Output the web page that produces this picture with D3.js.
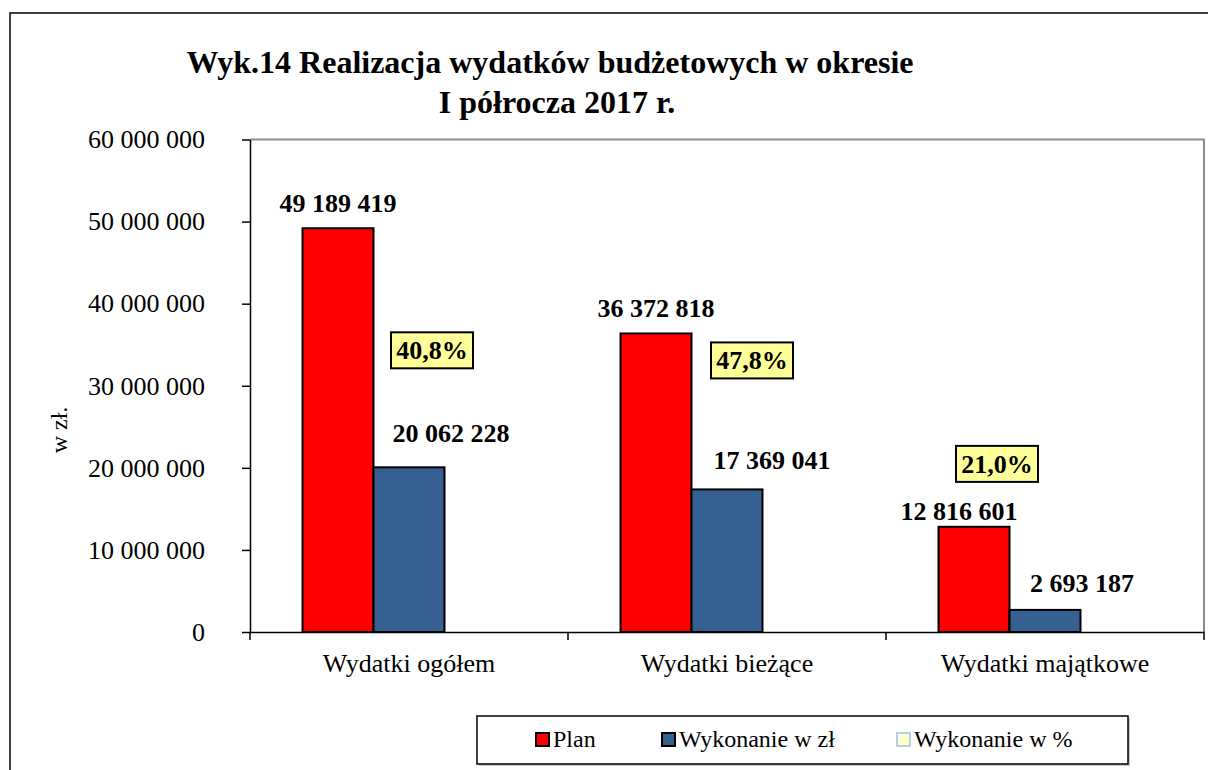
<!DOCTYPE html>
<html>
<head>
<meta charset="utf-8">
<script src="https://cdn.jsdelivr.net/npm/d3@7"></script>
<style>
  body { margin: 0; background: #fff; }
</style>
</head>
<body>
<div id="viz"></div>
<script>
// data
const categories = ["Wydatki ogółem", "Wydatki bieżące", "Wydatki majątkowe"];
const seriesNames = ["Plan", "Wykonanie w zł", "Wykonanie w %"];
const planValues = [49189419, 36372818, 12816601];
const wykonanieValues = [20062228, 17369041, 2693187];
const procentValues = [40.8, 47.8, 21.0];
const yTicks = [0, 10000000, 20000000, 30000000, 40000000, 50000000, 60000000];
const titleLines = ["Wyk.14 Realizacja wydatków budżetowych w okresie", "I półrocza 2017 r."];

// label nudges (dragged by hand in the original chart)
const planNudge = [[0, 0], [0, 0], [-15, 9]];
const wykNudge = [[42, -25], [45, -20], [37, -18]];
const pctNudge = [[23, -117], [25, -129], [-48, -146]];

var FONT = "'Liberation Serif', 'Times New Roman', Times, 'DejaVu Serif', serif";

var W = 1208, H = 770;
var margin = { top: 139.5, right: 4, bottom: 138, left: 250 },
  width = W - margin.left - margin.right,
  height = H - margin.top - margin.bottom;

var colors = { "Plan": "#ff0000", "Wykonanie w zł": "#376092", "Wykonanie w %": "#ffffcc" };

var pl = d3.formatLocale({ decimal: ",", thousands: " ", grouping: [3], currency: ["", ""] });
var fmt = pl.format(",.0f");
var fmtPct = pl.format(".1f");

var svg = d3.select("#viz").append("svg")
  .attr("width", W)
  .attr("height", H)
  .attr("font-family", FONT);

// outer chart border
svg.append("rect")
  .attr("x", 10).attr("y", 13)
  .attr("width", W).attr("height", H)
  .attr("fill", "none").attr("stroke", "#000").attr("stroke-width", 1.5);

// title
svg.selectAll(".title")
  .data(titleLines)
  .enter().append("text")
  .attr("class", "title")
  .attr("x", function (d, i) { return i == 0 ? 550 : 557; })
  .attr("y", function (d, i) { return 73 + i * 40; })
  .attr("text-anchor", "middle")
  .attr("font-family", FONT)
  .style("font-size", "32px")
  .style("font-weight", "bold")
  .text(function (d) { return d; });

var g = svg.append("g")
  .attr("transform", "translate(" + margin.left + "," + margin.top + ")");

// scales
var x = d3.scaleBand().domain(categories).range([0, width]).padding(0);
var xSub = d3.scaleBand().domain(seriesNames).range([0, x.bandwidth()]).paddingInner(0).paddingOuter(0.74);
var y = d3.scaleLinear().domain([0, 60000000]).range([height, 0]);

// plot frame: grey top and right
g.append("path")
  .attr("d", "M0,0H" + width + "V" + height)
  .attr("fill", "none").attr("stroke", "#8c8c8c").attr("stroke-width", 2);

// bars
var rows = categories.map(function (c, i) {
  return { cat: c, plan: planValues[i], wyk: wykonanieValues[i], pct: procentValues[i], i: i };
});

var grp = g.selectAll(".grp")
  .data(rows)
  .enter().append("g")
  .attr("class", "grp")
  .attr("transform", function (d) { return "translate(" + x(d.cat) + ",0)"; });

grp.append("rect")
  .attr("x", xSub("Plan"))
  .attr("y", function (d) { return y(d.plan); })
  .attr("width", xSub.bandwidth())
  .attr("height", function (d) { return height - y(d.plan); })
  .attr("fill", colors["Plan"])
  .attr("stroke", "#000").attr("stroke-width", 2);

grp.append("rect")
  .attr("x", xSub("Wykonanie w zł"))
  .attr("y", function (d) { return y(d.wyk); })
  .attr("width", xSub.bandwidth())
  .attr("height", function (d) { return height - y(d.wyk); })
  .attr("fill", colors["Wykonanie w zł"])
  .attr("stroke", "#000").attr("stroke-width", 2);

// value labels
grp.append("text")
  .attr("x", function (d) { return xSub("Plan") + xSub.bandwidth() / 2 + planNudge[d.i][0]; })
  .attr("y", function (d) { return y(d.plan) - 16 + planNudge[d.i][1]; })
  .attr("text-anchor", "middle")
  .attr("font-family", FONT)
  .style("font-size", "26px").style("font-weight", "bold")
  .text(function (d) { return fmt(d.plan); });

grp.append("text")
  .attr("x", function (d) { return xSub("Wykonanie w zł") + xSub.bandwidth() / 2 + wykNudge[d.i][0]; })
  .attr("y", function (d) { return y(d.wyk) + wykNudge[d.i][1]; })
  .attr("text-anchor", "middle")
  .attr("font-family", FONT)
  .style("font-size", "26px").style("font-weight", "bold")
  .text(function (d) { return fmt(d.wyk); });

// percent labels in yellow boxes
var pctG = grp.append("g")
  .attr("transform", function (d) {
    var cx = xSub("Wykonanie w zł") + xSub.bandwidth() / 2 + pctNudge[d.i][0];
    var cy = y(d.wyk) + pctNudge[d.i][1];
    return "translate(" + cx + "," + cy + ")";
  });

pctG.append("rect")
  .attr("x", -41).attr("y", -18)
  .attr("width", 82).attr("height", 36)
  .attr("fill", "#ffff99")
  .attr("stroke", "#000").attr("stroke-width", 2);

pctG.append("text")
  .attr("x", 0).attr("y", 9)
  .attr("text-anchor", "middle")
  .attr("font-family", FONT)
  .style("font-size", "26px").style("font-weight", "bold")
  .text(function (d) { return fmtPct(d.pct) + "%"; });

// y axis
var yAxis = d3.axisLeft(y)
  .tickValues(yTicks)
  .tickSize(8)
  .tickSizeOuter(0)
  .tickPadding(37)
  .tickFormat(fmt);

var gy = g.append("g").attr("class", "y axis").call(yAxis)
  .attr("font-family", FONT).attr("font-size", 26);
gy.selectAll("text").attr("fill", "#000");
gy.selectAll("path, line").attr("stroke", "#000").attr("stroke-width", 1.5);

// x axis (labels at band centres, ticks at band edges)
var xAxis = d3.axisBottom(x)
  .tickSize(0)
  .tickSizeOuter(0)
  .tickPadding(22);

var gx = g.append("g").attr("class", "x axis")
  .attr("transform", "translate(0," + height + ")")
  .call(xAxis)
  .attr("font-family", FONT).attr("font-size", 26);
gx.selectAll("text").attr("fill", "#000");
gx.select(".domain").attr("stroke", "#000").attr("stroke-width", 1.5);

gx.selectAll(".edge")
  .data(categories.map(function (c) { return x(c); }).concat([width]))
  .enter().append("line")
  .attr("class", "edge")
  .attr("x1", function (d) { return d; }).attr("x2", function (d) { return d; })
  .attr("y1", 0).attr("y2", 8)
  .attr("stroke", "#000").attr("stroke-width", 1.5);

// y axis title
svg.append("text")
  .attr("transform", "translate(67,430) rotate(-90)")
  .attr("text-anchor", "middle")
  .attr("font-family", FONT)
  .style("font-size", "24px")
  .text("w zł.");

// legend
var lg = svg.append("g").attr("transform", "translate(477,716)");
lg.append("rect")
  .attr("x", 2).attr("y", 2).attr("width", 651).attr("height", 48)
  .attr("fill", "#c8c8c8");
lg.append("rect")
  .attr("width", 651).attr("height", 48)
  .attr("fill", "#fff").attr("stroke", "#000").attr("stroke-width", 1.5);

var legendX = [59, 185, 420];
var item = lg.selectAll(".legend")
  .data(seriesNames)
  .enter().append("g")
  .attr("class", "legend")
  .attr("transform", function (d, i) { return "translate(" + legendX[i] + ",17)"; });

item.append("rect")
  .attr("width", 13).attr("height", 13)
  .attr("fill", function (d) { return colors[d]; })
  .attr("stroke", function (d) { return d == "Wykonanie w %" ? "#b9cde5" : "#000"; })
  .attr("stroke-width", 2);

item.append("text")
  .attr("x", 17).attr("y", 14)
  .attr("font-family", FONT)
  .style("font-size", "24px")
  .text(function (d) { return d; });
</script>
</body>
</html>
